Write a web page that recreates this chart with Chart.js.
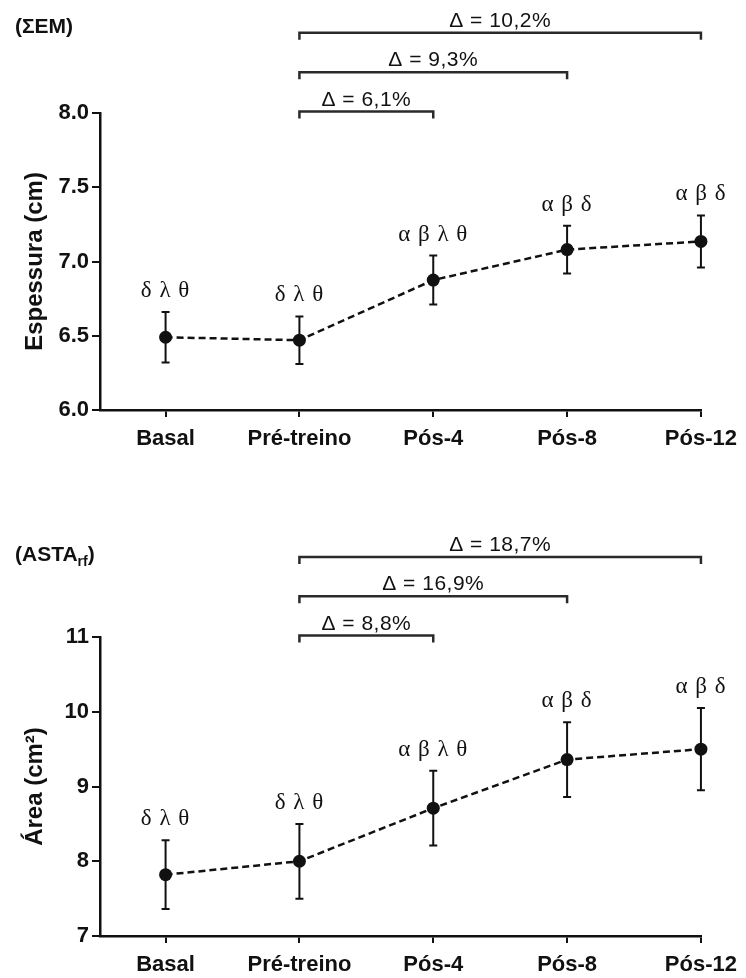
<!DOCTYPE html>
<html>
<head>
<meta charset="utf-8">
<script src="https://cdn.jsdelivr.net/npm/chart.js@4.4.1/dist/chart.umd.min.js"></script>
<style>
  body { margin: 0; background: #fff; }
  canvas { position: absolute; left: 0; }
  #grafEM { top: 0; }
  #grafASTA { top: 478px; }
</style>
</head>
<body>
<canvas id="grafEM" width="746" height="478"></canvas>
<canvas id="grafASTA" width="746" height="500"></canvas>
<script>
const periodos = ["Basal", "Pré-treino", "Pós-4", "Pós-8", "Pós-12"];

// (ΣEM) espessura
const espessura = [6.49, 6.47, 6.875, 7.08, 7.135];
const espessuraErro = [0.17, 0.16, 0.165, 0.16, 0.175];
const espessuraTicks = [6.0, 6.5, 7.0, 7.5, 8.0];
const espessuraLetras = ["δ λ θ", "δ λ θ", "α β λ θ", "α β δ", "α β δ"];
const espessuraDeltas = ["Δ = 6,1%", "Δ = 9,3%", "Δ = 10,2%"];
const espessuraDeltaFim = [2, 3, 4];
const espessuraDeltaNivel = [8.01, 8.275, 8.54];

// (ASTArf) area
const area = [7.82, 8.0, 8.71, 9.36, 9.5];
const areaErro = [0.46, 0.5, 0.5, 0.5, 0.55];
const areaTicks = [7, 8, 9, 10, 11];
const areaLetras = ["δ λ θ", "δ λ θ", "α β λ θ", "α β δ", "α β δ"];
const areaDeltas = ["Δ = 8,8%", "Δ = 16,9%", "Δ = 18,7%"];
const areaDeltaFim = [2, 3, 4];
const areaDeltaNivel = [11.02, 11.545, 12.07];

const preto = "#111";
Chart.defaults.font.family = '"Liberation Sans", Arial, sans-serif';
Chart.defaults.color = preto;

// error bars, greek letters, delta brackets and panel title
const extras = {
  id: "extras",
  afterDatasetsDraw(chart, args, o) {
    const ctx = chart.ctx;
    const xs = chart.scales.x, ys = chart.scales.y;
    ctx.save();
    ctx.strokeStyle = preto;
    ctx.fillStyle = preto;
    ctx.textAlign = "center";
    ctx.textBaseline = "alphabetic";

    o.valores.forEach((v, i) => {
      const x = xs.getPixelForValue(i);
      const yt = ys.getPixelForValue(v + o.erros[i]);
      const yb = ys.getPixelForValue(v - o.erros[i]);
      ctx.lineWidth = 2;
      ctx.beginPath();
      ctx.moveTo(x, yt); ctx.lineTo(x, yb);
      ctx.moveTo(x - 4, yt); ctx.lineTo(x + 4, yt);
      ctx.moveTo(x - 4, yb); ctx.lineTo(x + 4, yb);
      ctx.stroke();

      ctx.font = '23px "Liberation Serif", serif';
      ctx.letterSpacing = "1px";
      ctx.fillText(o.letras[i], x, yt - 15);
    });

    const x0 = xs.getPixelForValue(1);
    o.deltas.forEach((t, k) => {
      const x1 = xs.getPixelForValue(o.fim[k]);
      const y = ys.getPixelForValue(o.niveis[k]);
      ctx.lineWidth = 2.5;
      ctx.strokeStyle = "#2a2a2a";
      ctx.beginPath();
      ctx.moveTo(x0, y + 7); ctx.lineTo(x0, y); ctx.lineTo(x1, y); ctx.lineTo(x1, y + 7);
      ctx.stroke();
      ctx.font = '21px "Liberation Sans", Arial, sans-serif';
      ctx.letterSpacing = "0.5px";
      ctx.fillText(t, (x0 + x1) / 2, y - 6);
    });

    ctx.letterSpacing = "0px";
    ctx.textAlign = "left";
    let x = 15;
    o.titulo.forEach((p) => {
      ctx.font = p.sub ? 'bold 14px "Liberation Sans", Arial, sans-serif'
                       : 'bold 21px "Liberation Sans", Arial, sans-serif';
      ctx.fillText(p.t, x, o.tituloY + (p.sub ? 5 : 0));
      x += ctx.measureText(p.t).width;
    });
    ctx.restore();
  }
};

function criaGrafico(id, valores, erros, ticksY, tituloY, letras, deltas, fim, niveis, titulo, tituloPos, topo, altX) {
  const pontos = valores.map((v, i) => ({ x: i, y: v }));
  const casas = ticksY.some((v) => !Number.isInteger(v)) ? 1 : 0;
  return new Chart(document.getElementById(id), {
    type: "line",
    data: {
      datasets: [{
        data: pontos,
        borderColor: preto,
        borderWidth: 2.5,
        borderDash: [7, 4],
        pointRadius: 6.5,
        pointBorderWidth: 0,
        pointBackgroundColor: preto,
        clip: false,
        tension: 0
      }]
    },
    options: {
      responsive: false,
      animation: false,
      layout: { autoPadding: false, padding: { top: topo, right: 40, left: 0, bottom: 0 } },
      plugins: {
        legend: { display: false },
        tooltip: { enabled: false },
        extras: {
          valores: valores, erros: erros, letras: letras,
          deltas: deltas, fim: fim, niveis: niveis,
          titulo: titulo, tituloY: tituloPos
        }
      },
      scales: {
        x: {
          type: "linear",
          min: -0.49,
          max: 4,
          afterBuildTicks: (s) => { s.ticks = periodos.map((p, i) => ({ value: i })); },
          afterFit: (s) => { s.height = altX; },
          ticks: {
            callback: (v) => periodos[v],
            font: { size: 22, weight: "bold" },
            padding: 9,
            maxRotation: 0,
            autoSkip: false
          },
          grid: { drawOnChartArea: false, drawTicks: true, tickLength: 7, color: preto, lineWidth: 2 },
          border: { display: true, color: preto, width: 2.5 }
        },
        y: {
          min: ticksY[0],
          max: ticksY[ticksY.length - 1],
          afterBuildTicks: (s) => { s.ticks = ticksY.map((v) => ({ value: v })); },
          afterFit: (s) => { s.width = 100; },
          ticks: {
            callback: (v) => v.toFixed(casas),
            font: { size: 22, weight: "bold" },
            padding: 3
          },
          title: {
            display: true,
            text: tituloY,
            font: { size: 24, weight: "bold" },
            padding: { top: 21, bottom: 0 }
          },
          grid: { drawOnChartArea: false, drawTicks: true, tickLength: 8, color: preto, lineWidth: 2 },
          border: { display: true, color: preto, width: 2.5 }
        }
      }
    },
    plugins: [extras]
  });
}

criaGrafico("grafEM", espessura, espessuraErro, espessuraTicks, "Espessura (cm)",
  espessuraLetras, espessuraDeltas, espessuraDeltaFim, espessuraDeltaNivel,
  [{ t: "(ΣEM)" }], 33, 113, 68);

criaGrafico("grafASTA", area, areaErro, areaTicks, "Área (cm²)",
  areaLetras, areaDeltas, areaDeltaFim, areaDeltaNivel,
  [{ t: "(ASTA" }, { t: "rf", sub: true }, { t: ")" }], 83, 159, 42);
</script>
</body>
</html>
